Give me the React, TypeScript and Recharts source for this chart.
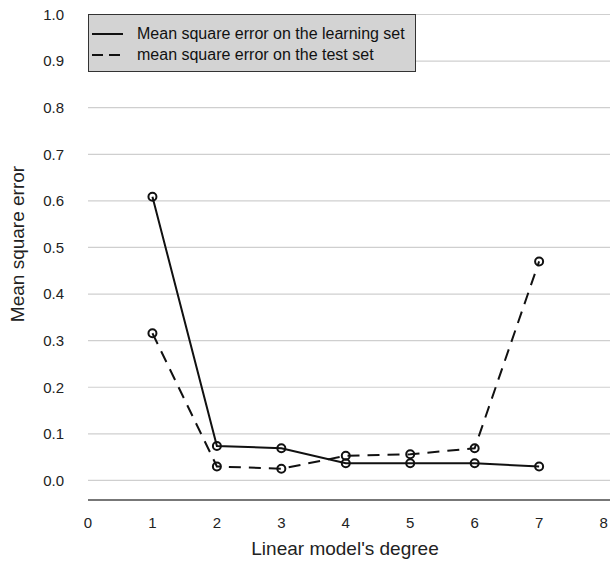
import { LineChart, Line, XAxis, YAxis, CartesianGrid, Label } from 'recharts';

const degrees = [1, 2, 3, 4, 5, 6, 7];
const learningError = [0.609, 0.074, 0.069, 0.037, 0.037, 0.037, 0.03];
const testError = [0.316, 0.03, 0.025, 0.053, 0.056, 0.069, 0.47];
const xTicks = [0, 1, 2, 3, 4, 5, 6, 7, 8];
const yTicks = [0, 0.1, 0.2, 0.3, 0.4, 0.5, 0.6, 0.7, 0.8, 0.9, 1.0];

const seriesNames = ['Mean square error on the learning set', 'mean square error on the test set'];

const data = degrees.map((d, i) => ({ degree: d, learning: learningError[i], test: testError[i] }));

const FONT = '"Liberation Sans", Arial, Helvetica, sans-serif';

const dot = { r: 4, stroke: '#111', strokeWidth: 2, fill: 'none', strokeDasharray: '0' };

function LegendBox() {
    return (
        <div
            style={{
                position: 'absolute',
                left: 88,
                top: 14,
                width: 328,
                height: 58,
                background: '#d3d3d3',
                border: '1px solid #333',
                fontFamily: FONT,
                fontSize: 16,
                color: '#111',
                boxSizing: 'border-box',
            }}
        >
            {seriesNames.map((name, i) => (
                <div key={name} style={{ display: 'flex', alignItems: 'center', height: 21, marginTop: i === 0 ? 8 : 0 }}>
                    <svg width={48} height={10} style={{ flex: 'none' }}>
                        <line
                            x1={3}
                            x2={34}
                            y1={5}
                            y2={5}
                            stroke="#111"
                            strokeWidth={2}
                            strokeDasharray={i === 1 ? '11 6' : undefined}
                        />
                    </svg>
                    <span>{name}</span>
                </div>
            ))}
        </div>
    );
}

export default function App() {
    return (
        <div style={{ position: 'absolute', left: 0, top: 0, width: 610, height: 563, overflow: 'hidden', background: '#fff' }}>
            <LineChart width={610} height={563} data={data} margin={{ top: 14.5, right: 0, left: 0, bottom: 0 }}>
                <CartesianGrid horizontal vertical={false} stroke="#cfcfcf" strokeWidth={1.2} />
                <XAxis
                    dataKey="degree"
                    type="number"
                    domain={[0, 8.1]}
                    ticks={xTicks}
                    allowDataOverflow
                    height={63}
                    tickLine={false}
                    tickMargin={11}
                    axisLine={{ stroke: '#777', strokeWidth: 2 }}
                    tick={{ fill: '#222', fontSize: 15, fontFamily: FONT }}
                >
                    <Label
                        content={() => (
                            <text x={345} y={555} textAnchor="middle" fill="#222" fontSize={19} fontFamily={FONT}>
                                Linear model's degree
                            </text>
                        )}
                    />
                </XAxis>
                <YAxis
                    type="number"
                    domain={[-0.042, 1.0]}
                    ticks={yTicks}
                    allowDataOverflow
                    width={88}
                    tickLine={false}
                    axisLine={false}
                    tickMargin={18}
                    tickFormatter={(v: number) => v.toFixed(1)}
                    tick={{ fill: '#222', fontSize: 15, fontFamily: FONT }}
                >
                    <Label
                        content={() => (
                            <text
                                x={17}
                                y={244}
                                transform="rotate(-90 17 244)"
                                textAnchor="middle"
                                dominantBaseline="central"
                                fill="#222"
                                fontSize={19}
                                fontFamily={FONT}
                            >
                                Mean square error
                            </text>
                        )}
                    />
                </YAxis>
                <Line
                    dataKey="learning"
                    name={seriesNames[0]}
                    stroke="#111"
                    strokeWidth={2}
                    dot={dot}
                    activeDot={false}
                    isAnimationActive={false}
                />
                <Line
                    dataKey="test"
                    name={seriesNames[1]}
                    stroke="#111"
                    strokeWidth={2}
                    strokeDasharray="12 8"
                    dot={dot}
                    activeDot={false}
                    isAnimationActive={false}
                />
            </LineChart>
            <LegendBox />
        </div>
    );
}
